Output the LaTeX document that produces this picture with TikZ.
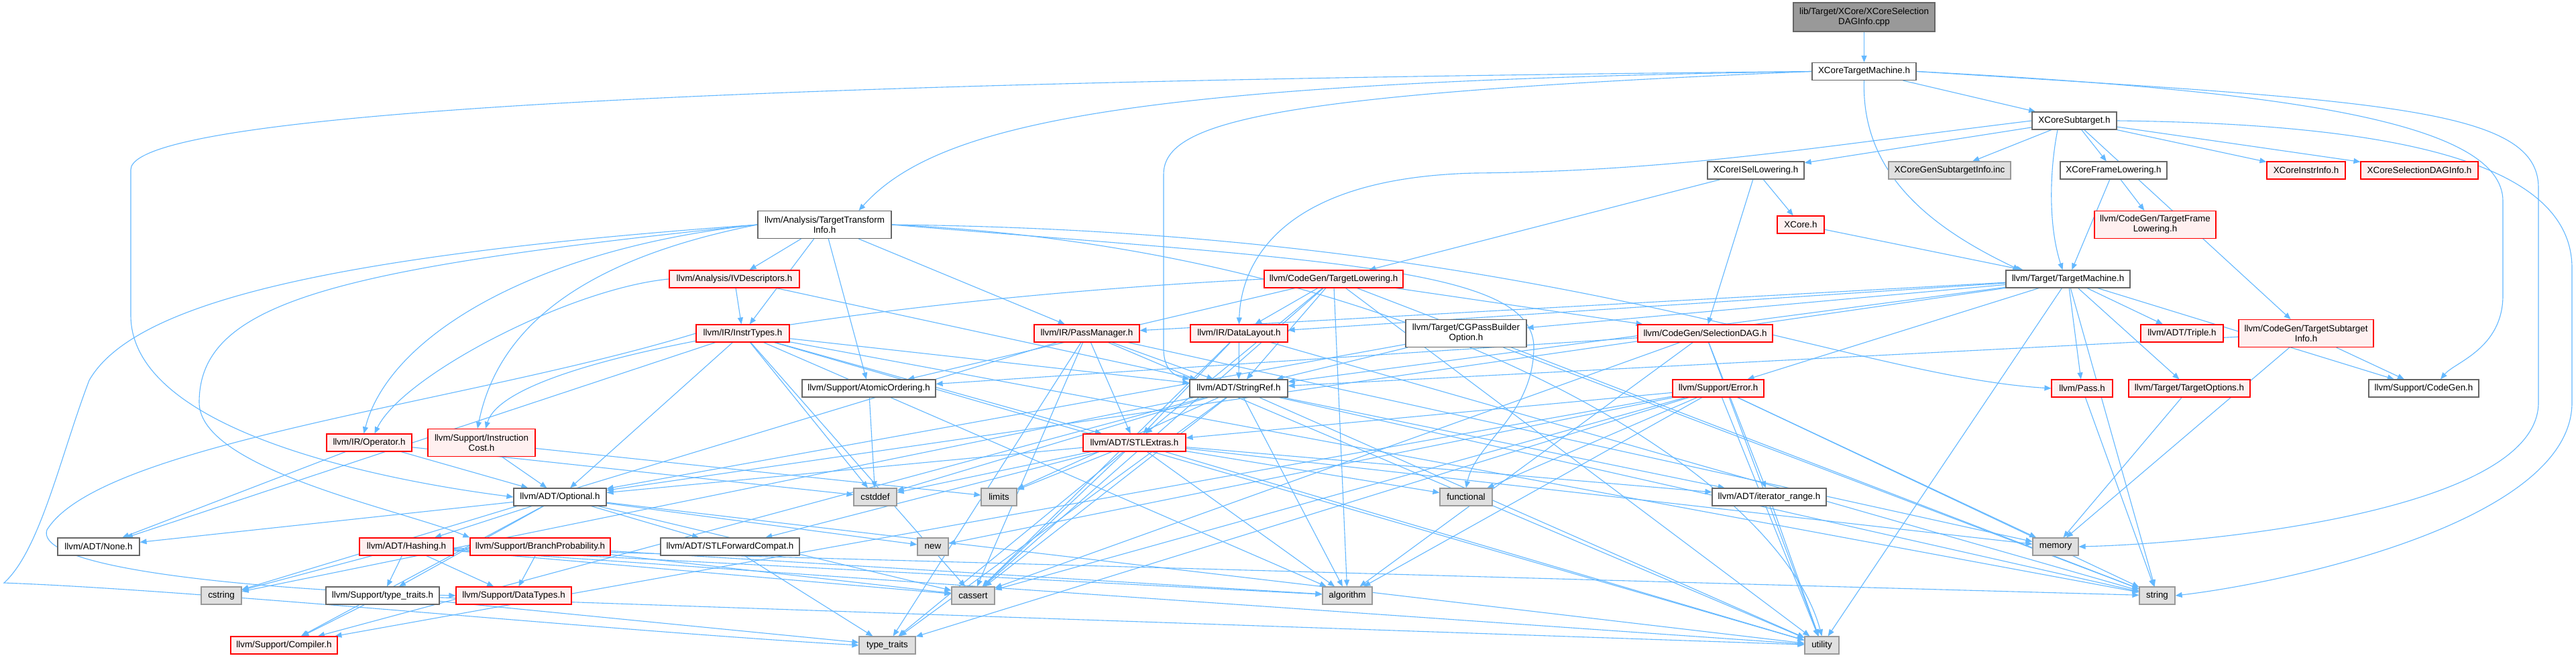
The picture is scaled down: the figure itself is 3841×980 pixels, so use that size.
\documentclass[tikz,border=0pt]{standalone}
\usepackage{fontspec}
\setmainfont{Liberation Sans}
\usetikzlibrary{arrows.meta}
\definecolor{edgec}{HTML}{63B8FF}
\definecolor{redb}{HTML}{FF0000}
\definecolor{redf}{HTML}{FFF0F0}
\definecolor{greyf}{HTML}{E0E0E0}
\definecolor{greyb}{HTML}{999999}
\definecolor{wb}{HTML}{666666}
\definecolor{rootf}{HTML}{999999}
\pgfdeclarelayer{background}
\pgfsetlayers{background,main}
\tikzset{
 base/.style={rectangle, inner sep=0pt, minimum height=26pt, line width=1.2pt, font=\fontsize{13.4}{15}\selectfont, align=center, text=black},
 wn/.style={base, draw=wb, fill=white},
 rn/.style={base, draw=redb, fill=redf},
 gn/.style={base, draw=greyb, fill=greyf},
 rootn/.style={base, draw=wb, fill=rootf},
 e/.style={draw=edgec, line width=1.1pt, -{Triangle[length=10pt,width=8pt]}},
}
\begin{document}
\begin{tikzpicture}[x=1pt,y=-1pt]
\useasboundingbox (0,0) rectangle (3841,980);
\node[rootn, minimum width=211pt, minimum height=43pt] (root) at (2779.5,25.5) {lib/Target/XCore/XCoreSelection\\DAGInfo.cpp};
\node[wn, minimum width=155pt] (tm) at (2779.5,106.5) {XCoreTargetMachine.h};
\node[wn, minimum width=126pt] (st) at (3093,180) {XCoreSubtarget.h};
\node[wn, minimum width=144pt] (isel) at (2618,254) {XCoreISelLowering.h};
\node[gn, minimum width=182pt] (gen) at (2907,254) {XCoreGenSubtargetInfo.inc};
\node[wn, minimum width=159pt] (fl) at (3151.5,254) {XCoreFrameLowering.h};
\node[rn, minimum width=117pt] (ii) at (3438.5,254) {XCoreInstrInfo.h};
\node[rn, minimum width=175pt] (sdi) at (3607.5,254) {XCoreSelectionDAGInfo.h};
\node[wn, minimum width=199pt, minimum height=41pt] (tti) at (1229.5,335) {llvm/Analysis/TargetTransform\\Info.h};
\node[rn, minimum width=70pt] (xc) at (2685,335) {XCore.h};
\node[rn, minimum width=181pt, minimum height=41pt] (tfl) at (3213.5,335) {llvm/CodeGen/TargetFrame\\Lowering.h};
\node[rn, minimum width=194pt] (ivd) at (1095,416) {llvm/Analysis/IVDescriptors.h};
\node[rn, minimum width=207pt] (tl) at (1988.5,416) {llvm/CodeGen/TargetLowering.h};
\node[wn, minimum width=185pt] (ttm) at (3083.5,416) {llvm/Target/TargetMachine.h};
\node[rn, minimum width=139pt] (it) at (1107.5,497) {llvm/IR/InstrTypes.h};
\node[rn, minimum width=157pt] (pm) at (1620.5,497) {llvm/IR/PassManager.h};
\node[rn, minimum width=145pt] (dl) at (1847.5,497) {llvm/IR/DataLayout.h};
\node[wn, minimum width=180pt, minimum height=41pt] (cgpb) at (2186,497) {llvm/Target/CGPassBuilder\\Option.h};
\node[rn, minimum width=201pt] (sdag) at (2542.5,497) {llvm/CodeGen/SelectionDAG.h};
\node[rn, minimum width=123pt] (triple) at (3253.5,497) {llvm/ADT/Triple.h};
\node[rn, minimum width=201pt, minimum height=41pt] (tsi) at (3438.5,497) {llvm/CodeGen/TargetSubtarget\\Info.h};
\node[wn, minimum width=199pt] (ao) at (1295.5,579) {llvm/Support/AtomicOrdering.h};
\node[wn, minimum width=146pt] (sr) at (1847,579) {llvm/ADT/StringRef.h};
\node[rn, minimum width=136pt] (err) at (2562,579) {llvm/Support/Error.h};
\node[rn, minimum width=91pt] (pass) at (3104.5,579) {llvm/Pass.h};
\node[rn, minimum width=181pt] (topt) at (3264.5,579) {llvm/Target/TargetOptions.h};
\node[wn, minimum width=164pt] (cg) at (3614,579) {llvm/Support/CodeGen.h};
\node[rn, minimum width=127pt] (op) at (550.5,660) {llvm/IR/Operator.h};
\node[rn, minimum width=160pt, minimum height=41pt] (ic) at (718,660) {llvm/Support/Instruction\\Cost.h};
\node[rn, minimum width=153pt] (stle) at (1691.5,660) {llvm/ADT/STLExtras.h};
\node[wn, minimum width=138pt] (opt) at (835,741) {llvm/ADT/Optional.h};
\node[gn, minimum width=64pt] (cstddef) at (1305,741) {cstddef};
\node[gn, minimum width=53pt] (limits) at (1489.5,741) {limits};
\node[gn, minimum width=78pt] (functional) at (2186,741) {functional};
\node[wn, minimum width=170pt] (itr) at (2638,741) {llvm/ADT/iterator\_range.h};
\node[wn, minimum width=122pt] (none) at (147,815) {llvm/ADT/None.h};
\node[rn, minimum width=140pt] (hash) at (606,815) {llvm/ADT/Hashing.h};
\node[rn, minimum width=209pt] (bp) at (805.5,815) {llvm/Support/BranchProbability.h};
\node[wn, minimum width=207pt] (stlfc) at (1088.5,815) {llvm/ADT/STLForwardCompat.h};
\node[gn, minimum width=46pt] (new) at (1391,815) {new};
\node[gn, minimum width=68pt] (memory) at (3065,815) {memory};
\node[gn, minimum width=60pt] (cstring) at (330,888) {cstring};
\node[wn, minimum width=169pt] (tt) at (570.5,888) {llvm/Support/type\_traits.h};
\node[rn, minimum width=172pt] (dt) at (766,888) {llvm/Support/DataTypes.h};
\node[gn, minimum width=64pt] (cassert) at (1451,888) {cassert};
\node[gn, minimum width=74pt] (algorithm) at (2009,888) {algorithm};
\node[gn, minimum width=53pt] (string) at (3216.5,888) {string};
\node[rn, minimum width=159pt] (comp) at (423.5,962) {llvm/Support/Compiler.h};
\node[gn, minimum width=84pt] (typetraits) at (1323,962) {type\_traits};
\node[gn, minimum width=51pt] (utility) at (2716.5,962) {utility};
\begin{pgfonlayer}{background}
\fill[white] (0,0) rectangle (3841,980);
\foreach \a/\b in {root/tm, tm/st, st/isel, st/gen, st/fl, st/ii, st/sdi, st/tsi, isel/xc, isel/tl, isel/sdag, fl/tfl, fl/ttm, xc/ttm, tti/ivd, tti/it, tti/pm, tti/ao, ivd/it, ivd/sr, it/none, it/opt, it/cstddef, it/stle, it/sr, it/cassert, it/algorithm, it/string, it/utility, op/none, op/opt, op/cstddef, ic/opt, ic/limits, pm/stle, pm/sr, pm/cassert, pm/cstring, pm/memory, pm/typetraits, pm/utility, dl/stle, dl/sr, dl/cassert, dl/string, cgpb/opt, cgpb/sr, cgpb/string, sdag/itr, sdag/ao, sdag/algorithm, sdag/cassert, sdag/utility, tl/sdag, tl/dl, tl/sr, tl/stle, tl/ao, tl/cassert, tl/algorithm, tl/string, tl/utility, ttm/opt, ttm/sr, ttm/triple, ttm/dl, ttm/pm, ttm/cg, ttm/err, ttm/cgpb, ttm/topt, ttm/pass, ttm/string, ttm/utility, err/stle, err/functional, err/memory, err/new, err/string, err/cassert, err/algorithm, err/typetraits, err/utility, err/comp, stle/opt, stle/stlfc, stle/itr, stle/cstddef, stle/limits, stle/functional, stle/memory, stle/cassert, stle/algorithm, stle/typetraits, stle/utility, sr/itr, sr/comp, sr/algorithm, sr/cassert, sr/cstddef, sr/cstring, sr/limits, sr/string, sr/typetraits, sr/utility, itr/utility, opt/hash, opt/none, opt/stlfc, opt/comp, opt/tt, opt/cassert, opt/new, opt/utility, hash/cstring, hash/tt, hash/dt, hash/algorithm, hash/cassert, hash/string, hash/utility, bp/dt, bp/algorithm, bp/cassert, stlfc/typetraits, tt/comp, tt/typetraits, tt/utility, topt/memory, pass/string, tsi/sr, tsi/cg, tsi/memory, ao/cstddef}
  \draw[e] (\a) -- (\b);
\draw[e] ([xshift=-25pt]st.south) .. controls (3055,260) and (3055,340) .. ([xshift=-8pt]ttm.north);
\draw[e] (tm.west) .. controls (1700,122) and (1400,180) .. ([xshift=51pt]tti.north);
\draw[e] (tm.west) .. controls (1500,118) and (195,150) .. (195,253) -- (195,470) .. controls (195,650) and (600,720) .. (opt.west);
\draw[e] (tm.west) .. controls (1900,140) and (1735,180) .. (1735,260) -- (1735,520) .. controls (1735,550) and (1750,560) .. (sr.north west);
\draw[e] (tm.south) .. controls (2775,260) and (2880,340) .. ([xshift=-72pt]ttm.north);
\draw[e] (tm.east) .. controls (3400,135) and (3732,180) .. (3732,300) -- (3732,440) .. controls (3732,520) and (3660,540) .. ([xshift=25pt]cg.north);
\draw[e] (tm.east) .. controls (3550,150) and (3785,160) .. (3785,280) -- (3785,600) .. controls (3785,760) and (3300,810) .. (memory.east);
\draw[e] (st.east) .. controls (3600,185) and (3835,250) .. (3835,400) -- (3835,600) .. controls (3835,780) and (3400,870) .. (string.east);
\draw[e] (st.west) .. controls (2700,220) and (2500,255) .. (2200,258) .. controls (1900,265) and (1850,400) .. (dl.north);
\draw[e] (tti.east) .. controls (2000,390) and (2290,400) .. (2287,520) .. controls (2285,620) and (2200,660) .. (functional.north);
\draw[e] (tti.east) .. controls (2300,345) and (2750,560) .. (pass.west);
\draw[e] (tti.east) .. controls (2100,370) and (2650,700) .. (utility.north);
\draw[e] (tti.west) .. controls (500,380) and (200,450) .. (133,567) .. controls (90,680) and (60,820) .. (6,869) .. controls (300,880) and (900,940) .. (typetraits.west);
\draw[e] (tti.west) .. controls (500,400) and (297,450) .. (297,600) .. controls (297,700) and (600,760) .. (bp.north west);
\draw[e] (tti.west) .. controls (800,370) and (580,500) .. ([xshift=-8pt]op.north);
\draw[e] (tti.west) .. controls (850,390) and (740,500) .. ([xshift=-6pt]ic.north);
\draw[e] (ivd.west) .. controls (850,430) and (600,560) .. ([xshift=8pt]op.north);
\draw[e] (tl.west) .. controls (1400,440) and (760,520) .. ([xshift=6pt]ic.north);
\draw[e] (it.west) .. controls (700,600) and (150,660) .. (70,790) .. controls (50,850) and (400,880) .. (dt.west);
\end{pgfonlayer}
\end{tikzpicture}
\end{document}
